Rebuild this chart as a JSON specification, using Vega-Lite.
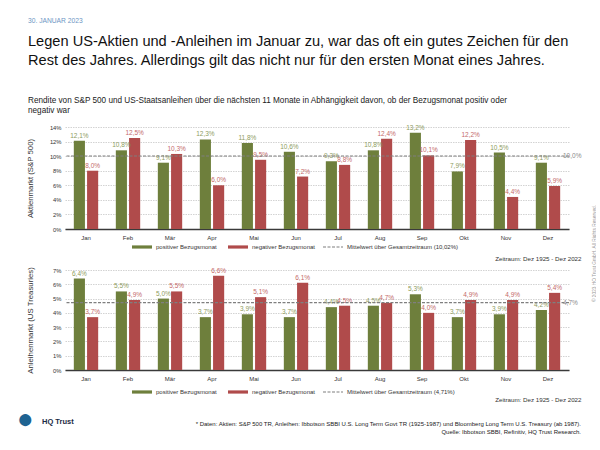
{
  "$schema": "https://vega.github.io/schema/vega-lite/v6.json",
  "padding": {"left": 16, "top": 17, "right": 0, "bottom": 0},
  "background": "white",
  "datasets": {
    "aktien": [
      {"month": "Jan", "type": "positiver Bezugsmonat", "value": 0.121},
      {"month": "Jan", "type": "negativer Bezugsmonat", "value": 0.080},
      {"month": "Feb", "type": "positiver Bezugsmonat", "value": 0.108},
      {"month": "Feb", "type": "negativer Bezugsmonat", "value": 0.125},
      {"month": "Mär", "type": "positiver Bezugsmonat", "value": 0.091},
      {"month": "Mär", "type": "negativer Bezugsmonat", "value": 0.103},
      {"month": "Apr", "type": "positiver Bezugsmonat", "value": 0.123},
      {"month": "Apr", "type": "negativer Bezugsmonat", "value": 0.060},
      {"month": "Mai", "type": "positiver Bezugsmonat", "value": 0.118},
      {"month": "Mai", "type": "negativer Bezugsmonat", "value": 0.095},
      {"month": "Jun", "type": "positiver Bezugsmonat", "value": 0.106},
      {"month": "Jun", "type": "negativer Bezugsmonat", "value": 0.072},
      {"month": "Jul", "type": "positiver Bezugsmonat", "value": 0.093},
      {"month": "Jul", "type": "negativer Bezugsmonat", "value": 0.088},
      {"month": "Aug", "type": "positiver Bezugsmonat", "value": 0.108},
      {"month": "Aug", "type": "negativer Bezugsmonat", "value": 0.124},
      {"month": "Sep", "type": "positiver Bezugsmonat", "value": 0.132},
      {"month": "Sep", "type": "negativer Bezugsmonat", "value": 0.101},
      {"month": "Okt", "type": "positiver Bezugsmonat", "value": 0.079},
      {"month": "Okt", "type": "negativer Bezugsmonat", "value": 0.122},
      {"month": "Nov", "type": "positiver Bezugsmonat", "value": 0.105},
      {"month": "Nov", "type": "negativer Bezugsmonat", "value": 0.044},
      {"month": "Dez", "type": "positiver Bezugsmonat", "value": 0.091},
      {"month": "Dez", "type": "negativer Bezugsmonat", "value": 0.059}
    ],
    "anleihen": [
      {"month": "Jan", "type": "positiver Bezugsmonat", "value": 0.064},
      {"month": "Jan", "type": "negativer Bezugsmonat", "value": 0.037},
      {"month": "Feb", "type": "positiver Bezugsmonat", "value": 0.055},
      {"month": "Feb", "type": "negativer Bezugsmonat", "value": 0.049},
      {"month": "Mär", "type": "positiver Bezugsmonat", "value": 0.050},
      {"month": "Mär", "type": "negativer Bezugsmonat", "value": 0.055},
      {"month": "Apr", "type": "positiver Bezugsmonat", "value": 0.037},
      {"month": "Apr", "type": "negativer Bezugsmonat", "value": 0.066},
      {"month": "Mai", "type": "positiver Bezugsmonat", "value": 0.039},
      {"month": "Mai", "type": "negativer Bezugsmonat", "value": 0.051},
      {"month": "Jun", "type": "positiver Bezugsmonat", "value": 0.037},
      {"month": "Jun", "type": "negativer Bezugsmonat", "value": 0.061},
      {"month": "Jul", "type": "positiver Bezugsmonat", "value": 0.044},
      {"month": "Jul", "type": "negativer Bezugsmonat", "value": 0.045},
      {"month": "Aug", "type": "positiver Bezugsmonat", "value": 0.045},
      {"month": "Aug", "type": "negativer Bezugsmonat", "value": 0.047},
      {"month": "Sep", "type": "positiver Bezugsmonat", "value": 0.053},
      {"month": "Sep", "type": "negativer Bezugsmonat", "value": 0.040},
      {"month": "Okt", "type": "positiver Bezugsmonat", "value": 0.037},
      {"month": "Okt", "type": "negativer Bezugsmonat", "value": 0.049},
      {"month": "Nov", "type": "positiver Bezugsmonat", "value": 0.039},
      {"month": "Nov", "type": "negativer Bezugsmonat", "value": 0.049},
      {"month": "Dez", "type": "positiver Bezugsmonat", "value": 0.042},
      {"month": "Dez", "type": "negativer Bezugsmonat", "value": 0.054}
    ],
    "mittel_aktien": [{"month": "Dez", "type": "Mittelwert über Gesamtzeitraum (10,02%)", "mean": 0.1002}],
    "mittel_anleihen": [{"month": "Dez", "type": "Mittelwert über Gesamtzeitraum (4,71%)", "mean": 0.0471}]
  },
  "title": {
    "text": "30. JANUAR 2023",
    "anchor": "start",
    "frame": "bounds",
    "dx": 11,
    "fontSize": 6.7,
    "fontWeight": "normal",
    "color": "#6d96c4",
    "subtitle": ["Legen US-Aktien und -Anleihen im Januar zu, war das oft ein gutes Zeichen für den", "Rest des Jahres. Allerdings gilt das nicht nur für den ersten Monat eines Jahres."],
    "subtitleFontSize": 14.6,
    "subtitleColor": "#111111",
    "subtitleLineHeight": 18.8,
    "subtitlePadding": 10,
    "offset": 28
  },
  "vconcat": [
    {
      "title": {"text": "●", "orient": "bottom", "anchor": "start", "frame": "bounds", "baseline": "top", "fontSize": 28, "color": "#1f6391", "dx": -9, "dy": -29, "offset": 0},
      "vconcat": [
        {
          "title": {"text": "HQ Trust", "orient": "bottom", "anchor": "start", "frame": "bounds", "baseline": "top", "fontSize": 7.5, "fontWeight": "bold", "color": "#1b2a44", "dx": 16, "dy": -17.5, "offset": 0},
          "spacing": 41,
          "bounds": "flush",
          "resolve": {"scale": {"color": "independent", "strokeDash": "independent", "y": "independent", "x": "independent", "xOffset": "independent"}, "legend": {"color": "independent", "strokeDash": "independent"}},
          "vconcat": [
            {
              "width": 504,
              "height": 102,
              "title": {
                "text": ["Rendite von S&P 500 und US-Staatsanleihen über die nächsten 11 Monate in Abhängigkeit davon, ob der Bezugsmonat positiv oder", "negativ war"],
                "anchor": "start",
                "frame": "bounds",
                "dx": 2,
                "fontSize": 8.2,
                "fontWeight": "normal",
                "color": "#222222",
                "lineHeight": 10,
                "offset": 9
              },
              "resolve": {"axis": {"y": "independent"}},
              "layer": [
                {
                  "data": {"name": "aktien"},
                  "mark": {"type": "bar"},
                  "encoding": {
                    "x": {"field": "month", "type": "nominal", "sort": ["Jan", "Feb", "Mär", "Apr", "Mai", "Jun", "Jul", "Aug", "Sep", "Okt", "Nov", "Dez"],
                      "scale": {"paddingInner": 0.42, "paddingOuter": 0.21},
                      "axis": {"title": "Zeitraum: Dez 1925 - Dez 2022", "titleX": 516, "titleY": 29, "titleAlign": "right", "titleBaseline": "middle", "labelAngle": 0}},
                    "xOffset": {"field": "type", "type": "nominal", "sort": ["positiver Bezugsmonat", "negativer Bezugsmonat"], "scale": {"paddingInner": 0.16}},
                    "y": {"field": "value", "type": "quantitative", "scale": {"domain": [0, 0.14], "nice": false},
                      "axis": {"orient": "left", "format": ".0%", "tickCount": 7, "title": "Aktienmarkt (S&P 500)", "titleX": -35, "titleBaseline": "middle"}},
                    "color": {"field": "type", "type": "nominal",
                      "scale": {"domain": ["positiver Bezugsmonat", "negativer Bezugsmonat"], "range": ["#6e7f3c", "#b04b4b"]},
                      "legend": {"orient": "none", "legendX": 66, "legendY": 109, "direction": "horizontal", "title": null, "symbolType": "M-1,-0.16H1V0.16H-1Z"}}
                  }
                },
                {
                  "data": {"name": "aktien"},
                  "mark": {"type": "text", "baseline": "bottom", "dy": -2, "fontSize": 6.5},
                  "encoding": {
                    "x": {"field": "month", "type": "nominal", "sort": ["Jan", "Feb", "Mär", "Apr", "Mai", "Jun", "Jul", "Aug", "Sep", "Okt", "Nov", "Dez"]},
                    "xOffset": {"field": "type", "type": "nominal", "sort": ["positiver Bezugsmonat", "negativer Bezugsmonat"]},
                    "y": {"field": "value", "type": "quantitative",
                      "axis": {"orient": "right", "title": "© 2023 HQ Trust GmbH. All Rights Reserved.", "labels": false, "ticks": false, "domain": false, "grid": false,
                        "titleAngle": 270, "titleX": 25, "titleY": 126, "titleAlign": "center", "titleBaseline": "middle", "titleFontSize": 4.8, "titleColor": "#9a9a9a"}},
                    "text": {"field": "value", "type": "quantitative", "format": ".1%"},
                    "color": {"condition": {"test": "datum.type === 'positiver Bezugsmonat'", "value": "#8e9b5e"}, "value": "#c46a6a"}
                  }
                },
                {
                  "data": {"name": "mittel_aktien"},
                  "mark": {"type": "rule", "strokeWidth": 1.2, "color": "#7f7f7f"},
                  "encoding": {
                    "y": {"field": "mean", "type": "quantitative", "axis": null},
                    "strokeDash": {"field": "type", "type": "nominal", "scale": {"range": [[3, 1.5]]},
                      "legend": {"orient": "none", "legendX": 257, "legendY": 109, "direction": "horizontal", "title": null, "symbolStrokeWidth": 1.2}}
                  }
                },
                {
                  "data": {"name": "mittel_aktien"},
                  "mark": {"type": "text", "align": "left", "dx": 15, "fontSize": 6.5, "color": "#8a8a8a", "baseline": "middle"},
                  "encoding": {
                    "x": {"field": "month", "type": "nominal", "sort": ["Jan", "Feb", "Mär", "Apr", "Mai", "Jun", "Jul", "Aug", "Sep", "Okt", "Nov", "Dez"]},
                    "y": {"field": "mean", "type": "quantitative", "axis": null},
                    "text": {"field": "mean", "type": "quantitative", "format": ".1%"}
                  }
                }
              ]
            },
            {
              "width": 504,
              "height": 100,
              "title": {
                "text": ["* Daten: Aktien: S&P 500 TR, Anleihen: Ibbotson SBBI U.S. Long Term Govt TR (1925-1987) und Bloomberg Long Term U.S. Treasury (ab 1987).", "Quelle: Ibbotson SBBI, Refinitiv, HQ Trust Research."],
                "orient": "bottom",
                "anchor": "end",
                "frame": "group",
                "align": "right",
                "baseline": "top",
                "dx": 12,
                "fontSize": 6.0,
                "fontWeight": "normal",
                "color": "#222222",
                "lineHeight": 8,
                "offset": 19
              },
              "layer": [
                {
                  "data": {"name": "anleihen"},
                  "mark": {"type": "bar"},
                  "encoding": {
                    "x": {"field": "month", "type": "nominal", "sort": ["Jan", "Feb", "Mär", "Apr", "Mai", "Jun", "Jul", "Aug", "Sep", "Okt", "Nov", "Dez"],
                      "scale": {"paddingInner": 0.42, "paddingOuter": 0.21},
                      "axis": {"title": "Zeitraum: Dez 1925 - Dez 2022", "titleX": 516, "titleY": 29, "titleAlign": "right", "titleBaseline": "middle", "labelAngle": 0}},
                    "xOffset": {"field": "type", "type": "nominal", "sort": ["positiver Bezugsmonat", "negativer Bezugsmonat"], "scale": {"paddingInner": 0.16}},
                    "y": {"field": "value", "type": "quantitative", "scale": {"domain": [0, 0.07], "nice": false},
                      "axis": {"format": ".0%", "tickCount": 7, "title": "Anleihenmarkt (US Treasuries)", "titleX": -35, "titleBaseline": "middle"}},
                    "color": {"field": "type", "type": "nominal",
                      "scale": {"domain": ["positiver Bezugsmonat", "negativer Bezugsmonat"], "range": ["#6e7f3c", "#b04b4b"]},
                      "legend": {"orient": "none", "legendX": 66, "legendY": 111, "direction": "horizontal", "title": null, "symbolType": "M-1,-0.16H1V0.16H-1Z"}}
                  }
                },
                {
                  "data": {"name": "anleihen"},
                  "mark": {"type": "text", "baseline": "bottom", "dy": -2, "fontSize": 6.5},
                  "encoding": {
                    "x": {"field": "month", "type": "nominal", "sort": ["Jan", "Feb", "Mär", "Apr", "Mai", "Jun", "Jul", "Aug", "Sep", "Okt", "Nov", "Dez"]},
                    "xOffset": {"field": "type", "type": "nominal", "sort": ["positiver Bezugsmonat", "negativer Bezugsmonat"]},
                    "y": {"field": "value", "type": "quantitative"},
                    "text": {"field": "value", "type": "quantitative", "format": ".1%"},
                    "color": {"condition": {"test": "datum.type === 'positiver Bezugsmonat'", "value": "#8e9b5e"}, "value": "#c46a6a"}
                  }
                },
                {
                  "data": {"name": "mittel_anleihen"},
                  "mark": {"type": "rule", "strokeWidth": 1.2, "color": "#7f7f7f"},
                  "encoding": {
                    "y": {"field": "mean", "type": "quantitative"},
                    "strokeDash": {"field": "type", "type": "nominal", "scale": {"range": [[3, 1.5]]},
                      "legend": {"orient": "none", "legendX": 257, "legendY": 111, "direction": "horizontal", "title": null, "symbolStrokeWidth": 1.2}}
                  }
                },
                {
                  "data": {"name": "mittel_anleihen"},
                  "mark": {"type": "text", "align": "left", "dx": 15, "fontSize": 6.5, "color": "#8a8a8a", "baseline": "middle"},
                  "encoding": {
                    "x": {"field": "month", "type": "nominal", "sort": ["Jan", "Feb", "Mär", "Apr", "Mai", "Jun", "Jul", "Aug", "Sep", "Okt", "Nov", "Dez"]},
                    "y": {"field": "mean", "type": "quantitative"},
                    "text": {"field": "mean", "type": "quantitative", "format": ".1%"}
                  }
                }
              ]
            }
          ]
        }
      ]
    }
  ],
  "config": {
    "font": "Liberation Sans",
    "view": {"stroke": null},
    "locale": {"number": {"decimal": ",", "thousands": ".", "grouping": [3], "currency": ["", " €"]}},
    "axis": {"labelColor": "#333333", "titleColor": "#333333", "titleFontWeight": "normal"},
    "axisY": {"grid": true, "gridColor": "#c8c8c8", "gridDash": [1.5, 1], "gridWidth": 0.8, "domain": false, "ticks": false, "labelFontSize": 5.8, "labelPadding": 4, "titleFontSize": 7.8},
    "axisX": {"grid": false, "domainColor": "#3a3a3a", "domainWidth": 1.5, "ticks": false, "labelFontSize": 6, "labelPadding": 5, "titleFontSize": 6.2},
    "legend": {"labelFontSize": 6.0, "labelColor": "#333333", "symbolSize": 400, "columnPadding": 10, "labelOffset": 3}
  }
}
